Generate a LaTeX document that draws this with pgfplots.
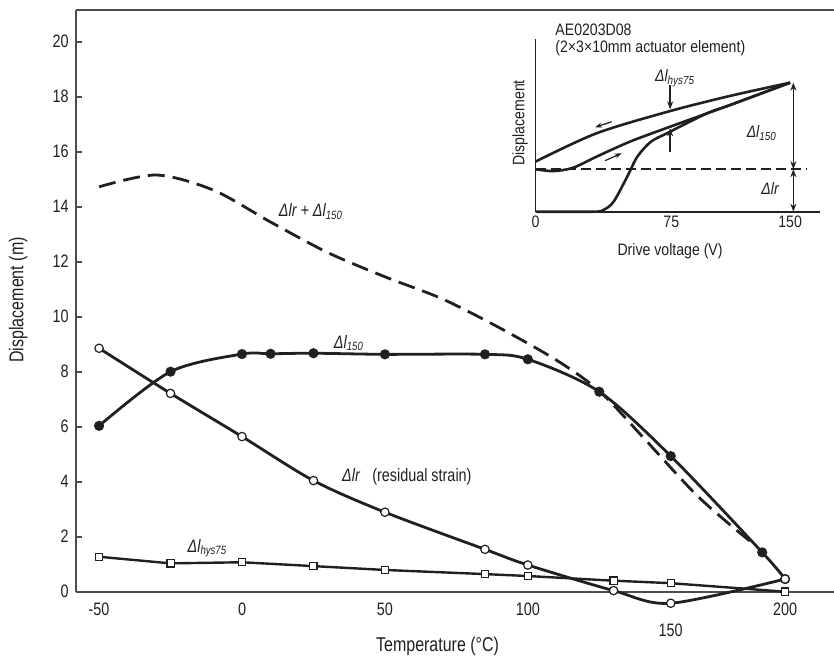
\documentclass[border=0pt]{standalone}
\usepackage{fontspec}
\setmainfont{Liberation Sans}[FakeStretch=0.8]
\newfontfamily\insetfont{Liberation Sans}[FakeStretch=0.85]
\usepackage{pgfplots}
\pgfplotsset{compat=1.18}
\usetikzlibrary{arrows.meta}
\definecolor{ink}{HTML}{231F20}
\definecolor{spine}{HTML}{4D4D4D}
\newcommand{\tickfont}{\fontsize{9}{10}\selectfont}
\newcommand{\labfont}{\fontsize{10}{12}\selectfont}
\newcommand{\annfont}{\fontsize{9}{10}\selectfont\itshape}
\newcommand{\infont}{\insetfont\fontsize{8.3}{9.5}\selectfont}
\begin{document}
\begin{tikzpicture}
\useasboundingbox (-38pt,-32.65pt) rectangle (379pt,295.85pt);
\begin{axis}[
  at={(0pt,0pt)}, anchor=south west,
  width=379pt, height=290.85pt, scale only axis,
  x coord trafo/.code={\pgfmathparse{#1>150 ? 150+0.8*(#1-150) : #1}},
  x coord inv trafo/.code={\pgfmathparse{#1>150 ? 150+(#1-150)/0.8 : #1}},
  xmin=-58.08, xmax=221.4, ymin=0, ymax=21.15,
  clip=false,
  axis x line*=bottom, axis y line*=left,
  axis line style={spine, line width=0.9pt},
  xtick={-50,0,50,100,200}, xticklabels={-50,0,50,100,200},
  extra x ticks={150}, extra x tick labels={150},
  extra x tick style={xticklabel style={yshift=-10.5pt}},
  xtick style={draw=none},
  ytick={0,2,...,20},
  ytick style={spine, line width=0.9pt},
  major tick length=3pt,
  tick align=inside,
  /pgf/number format/assume math mode=true,
  xticklabel style={anchor=base, yshift=-11.9pt, inner sep=0pt, font=\tickfont, text=ink},
  yticklabel style={anchor=east, inner sep=0pt, xshift=-3.5pt, font=\tickfont, text=ink},
  xlabel={Temperature (°C)},
  ylabel={Displacement (m)},
  xlabel style={at={(axis description cs:0.477,-0.0946)}, anchor=center, font=\labfont, text=ink},
  ylabel style={at={(axis description cs:-0.0761,0.5015)}, anchor=center, font=\labfont, text=ink},
]
% top frame line
\draw[spine, line width=0.9pt] (rel axis cs:0,1) -- (rel axis cs:1,1);

% dl_r + dl_150 (dashed)
\addplot[ink, line width=1.4pt, dash pattern=on 8.5pt off 4pt, smooth] coordinates {
  (-50,14.72) (-30,15.15) (-10,14.6) (10,13.44) (30,12.33) (50,11.45)
  (70,10.65) (90,9.6) (110,8.42) (125,7.3) (140,5.65) (160,3.62)
  (175,2.5) (186,1.75)
};

% dl_150 (filled circles)
\addplot[ink, line width=1.4pt, smooth, mark=*, mark size=1.8pt,
  mark options={solid, fill=ink, draw=ink}] coordinates {
  (-50,6.03) (-25,8.0) (0,8.64) (10,8.65) (25,8.67) (50,8.63) (85,8.63)
  (100,8.45) (125,7.27) (150,4.93) (190,1.43) (200,0.46)
};

% dl_r residual strain (open circles)
\addplot[ink, line width=1.4pt, smooth, mark=*, mark size=2.1pt,
  mark options={solid, fill=white, draw=ink, line width=0.6pt}] coordinates {
  (-50,8.85) (-25,7.21) (0,5.64) (25,4.04) (50,2.89) (85,1.54) (100,0.97)
  (130,0.04) (150,-0.42) (200,0.46)
};

% dl_hys75 (open squares)
\addplot[ink, line width=1.2pt, mark=square*, mark size=1.8pt,
  mark options={solid, fill=white, draw=ink, line width=0.6pt}] coordinates {
  (-50,1.27) (-25,1.03) (0,1.07) (25,0.93) (50,0.79) (85,0.64) (100,0.57)
  (130,0.40) (150,0.31) (200,0.0)
};

\node[font=\annfont, text=ink] at (axis cs:24.1,13.82) {Δlr + Δl\textsubscript{150}};
\node[font=\annfont, text=ink] at (axis cs:37.4,9.04) {Δl\textsubscript{150}};
\node[font=\tickfont, text=ink, anchor=west, inner sep=0pt] at (axis cs:34.9,4.18) {\textit{Δlr}\hspace{6pt}(residual strain)};
\node[font=\annfont, text=ink] at (axis cs:-12.1,1.58) {Δl\textsubscript{hys75}};
\end{axis}

% inset
\begin{axis}[
  at={(229.75pt,190pt)}, anchor=south west,
  width=142.25pt, height=86.35pt, scale only axis,
  xmin=0, xmax=167.6, ymin=0, ymax=10.04, clip=false,
  axis x line*=bottom, axis y line*=left,
  axis line style={ink, line width=0.9pt},
  xtick={0,80,150}, xticklabels={0,75,150}, xtick style={draw=none},
  ytick=\empty,
  xticklabel style={anchor=base, inner sep=0pt, yshift=-8.1pt, font=\infont, text=ink},
  xlabel={Drive voltage (V)}, ylabel={Displacement},
  xlabel style={at={(axis description cs:0.473,-0.2316)}, anchor=center, font=\infont, text=ink},
  ylabel style={at={(axis description cs:-0.0545,0.514)}, anchor=center, font=\infont, text=ink},
]
% residual level (dashed)
\addplot[ink, line width=0.8pt, dash pattern=on 5pt off 2.5pt] coordinates {(0,2.47) (160,2.47)};
% return branch (upper)
\addplot[ink, line width=1.3pt, smooth] coordinates {
  (0,2.91) (36,4.56) (79.3,5.85) (114.6,6.73) (150,7.5)
};
% loading branch
\addplot[ink, line width=1.3pt, smooth] coordinates {
  (0,2.47) (10.5,2.36) (22,2.55) (36,3.2) (55.6,4.07) (79.3,4.94) (114.6,6.2) (150,7.5)
};
% virgin curve
\addplot[ink, line width=1.3pt, smooth] coordinates {
  (0,0) (34,0) (40,0.1) (46,0.58) (54,2.03) (60,3.2) (68,4.07) (77.5,4.56)
  (91,5.24) (103,5.8) (114.6,6.2) (150,7.5)
};
% annotation arrows
\draw[ink, line width=0.7pt, {Stealth[length=4pt,width=3pt]}-{Stealth[length=4pt,width=3pt]}]
  (axis cs:151.9,7.5) -- (axis cs:151.9,2.47);
\draw[ink, line width=0.7pt, {Stealth[length=4pt,width=3pt]}-{Stealth[length=4pt,width=3pt]}]
  (axis cs:151.9,2.47) -- (axis cs:151.9,0);
\draw[ink, line width=0.7pt, -{Stealth[length=4pt,width=3pt]}] (axis cs:79.3,7.37) -- (axis cs:79.3,5.95);
\draw[ink, line width=0.7pt, -{Stealth[length=4pt,width=3pt]}] (axis cs:79.3,3.49) -- (axis cs:79.3,4.85);
\draw[ink, line width=0.6pt, -{Stealth[length=3.5pt,width=2.5pt]}] (axis cs:44.9,5.23) -- (axis cs:35.1,4.91);
\draw[ink, line width=0.6pt, -{Stealth[length=3.5pt,width=2.5pt]}] (axis cs:41.0,2.97) -- (axis cs:50.8,3.40);
% labels
\node[font=\infont\itshape, text=ink] at (axis cs:82.2,7.76) {Δl\textsubscript{hys75}};
\node[font=\infont\itshape, text=ink] at (axis cs:133.3,4.56) {Δl\textsubscript{150}};
\node[font=\infont\itshape, text=ink] at (axis cs:138.2,1.36) {Δlr};
\node[font=\infont, text=ink, anchor=base west, inner sep=0pt] at (axis cs:11.5,10.22) {AE0203D08};
\node[font=\infont, text=ink, anchor=base west, inner sep=0pt] at (axis cs:11.5,9.23) {(2×3×10mm actuator element)};
\end{axis}
\end{tikzpicture}
\end{document}
